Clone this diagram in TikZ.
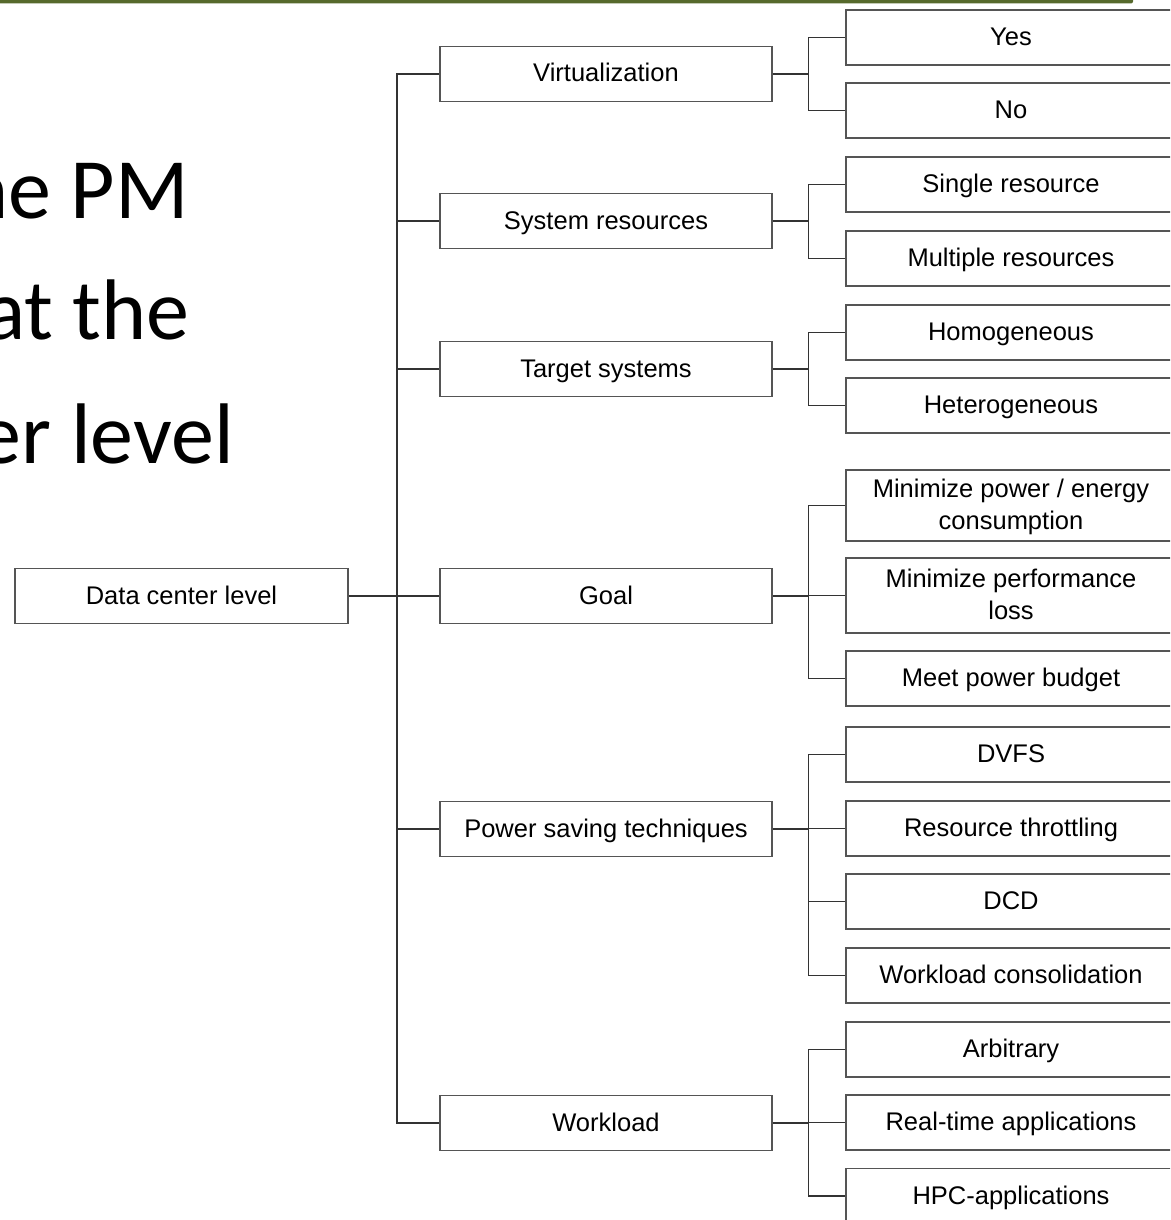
\documentclass[tikz,border=0pt]{standalone}
\usepackage{fontspec}
\setmainfont{Liberation Sans}
\newfontfamily\slidefont{Carlito}
\definecolor{barolive}{HTML}{56692C}
\definecolor{boxline}{HTML}{555555}
\definecolor{connline}{HTML}{333333}
\begin{document}
\begin{tikzpicture}[x=1pt,y=-1pt,
  box/.style={draw=boxline, line width=1.7pt, fill=white, inner sep=0pt,
    text height=19pt, text depth=3pt, align=center,
    font=\fontsize{25.5}{32}\selectfont},
  twoline/.style={text height=51pt, text depth=3pt},
  rootbox/.style={box, minimum width=333pt, minimum height=55pt},
  midbox/.style={box, minimum width=332pt, minimum height=55pt},
  leafbox/.style={box, minimum width=330pt, minimum height=55pt},
  conn/.style={draw=connline, line width=1.4pt},
  slide/.style={font=\slidefont\fontsize{86}{100}\selectfont, inner sep=0pt, anchor=base east}]
\useasboundingbox (0,0) rectangle (1170,1220);
\clip (0,0) rectangle (1170,1220);

% slide title bar and body text
\fill[barolive, rounded corners=2pt] (-10,-6) rectangle (1133,3.5);
\node[slide] (l1) at (189,218) {the PM};
\node[slide] (l2) at (190,339) {that the};
\node[slide] (l3) at (234,463) {power level};

% root
\node[rootbox] (root) at (181.5,596) {Data center level};

% second level
\node[midbox] (virt)   at (606,74)   {Virtualization};
\node[midbox] (sysres) at (606,221)  {System resources};
\node[midbox] (target) at (606,369)  {Target systems};
\node[midbox] (goal)   at (606,596)  {Goal};
\node[midbox] (power)  at (606,829)  {Power saving techniques};
\node[midbox] (work)   at (606,1123) {Workload};

% leaves
\node[leafbox] (yes)    at (1011,37.5)  {Yes};
\node[leafbox] (no)     at (1011,110.5) {No};
\node[leafbox] (single) at (1011,184.5) {Single resource};
\node[leafbox] (multi)  at (1011,258.5) {Multiple resources};
\node[leafbox] (homo)   at (1011,332.5) {Homogeneous};
\node[leafbox] (hetero) at (1011,405.5) {Heterogeneous};
\node[leafbox, twoline, minimum height=71pt] (minpow) at (1011,505.5) {Minimize power / energy\\consumption};
\node[leafbox, twoline, minimum height=75pt] (minperf) at (1011,595.5) {Minimize performance\\loss};
\node[leafbox] (budget) at (1011,678.5) {Meet power budget};
\node[leafbox] (dvfs)   at (1011,754.5) {DVFS};
\node[leafbox] (thrott) at (1011,828.5) {Resource throttling};
\node[leafbox] (dcd)    at (1011,901.5) {DCD};
\node[leafbox] (consol) at (1011,975.5) {Workload consolidation};
\node[leafbox] (arb)    at (1011,1049.5) {Arbitrary};
\node[leafbox] (rt)     at (1011,1122.5) {Real-time applications};
\node[leafbox] (hpc)    at (1011,1196)  {HPC-applications};

% connector columns
\coordinate (trunk) at (397,0);
\coordinate (fork) at (808.5,0);

\draw[conn] (root.east) -- (trunk |- root.east);
\foreach \m in {virt,sysres,target,goal,power,work}
  \draw[conn] (trunk |- root.east) |- (\m.west);

\foreach \m/\kids in {virt/{yes,no}, sysres/{single,multi}, target/{homo,hetero},
    goal/{minpow,minperf,budget}, power/{dvfs,thrott,dcd,consol}, work/{arb,rt,hpc}}{
  \draw[conn] (\m.east) -- (fork |- \m.east);
  \foreach \k in \kids
    \draw[conn] (fork |- \m.east) |- (\k.west);
}
\end{tikzpicture}
\end{document}
